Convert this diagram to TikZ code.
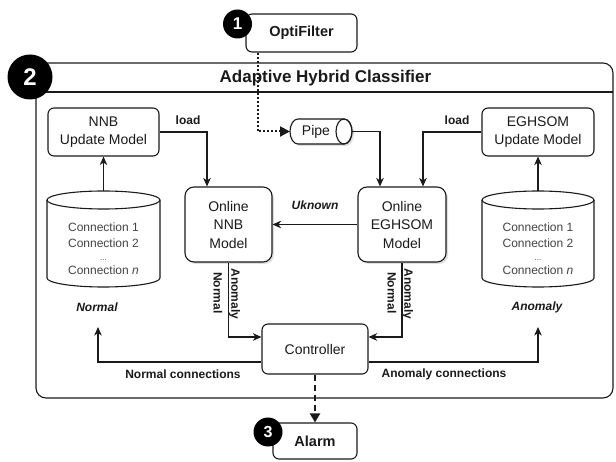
\documentclass[tikz,border=0pt]{standalone}
\usepackage{fontspec}
\setmainfont{Liberation Sans}
\usetikzlibrary{arrows.meta,shadows,calc}

\definecolor{ink}{HTML}{1A1A1A}
\definecolor{dbtext}{HTML}{444444}

\tikzset{
  box/.style={draw=ink, line width=1.1pt, fill=white, rounded corners=6pt,
    align=center, inner sep=0pt, text=ink, font=\fontsize{14}{18.5}\selectfont},
  modelbox/.style={box, rounded corners=9pt,
    drop shadow={opacity=0.25, shadow xshift=2pt, shadow yshift=-2pt}},
  boldbox/.style={box, font=\bfseries\fontsize{14.5}{18}\selectfont},
  flow/.style={draw=ink, line width=1.2pt, -{Stealth[length=8.5pt,width=7.5pt,inset=2.5pt]}},
  lbl/.style={font=\bfseries\fontsize{12}{14}\selectfont, text=ink, inner sep=1pt},
  lblit/.style={font=\bfseries\itshape\fontsize{12}{14}\selectfont, text=ink, inner sep=1pt},
  vlbl/.style={lbl, rotate=-90},
  dbtxt/.style={align=center, text=dbtext, font=\fontsize{12}{15.6}\selectfont},
  badge/.style={circle, fill=black, text=white, inner sep=0pt, font=\bfseries},
  dbbody/.style={draw=ink, line width=1.1pt, fill=white},
}

\begin{document}
\begin{tikzpicture}[x=1pt, y=-1pt]
\useasboundingbox (0,0) rectangle (616,462);

% outer classifier frame with its title band
\draw[draw=ink, line width=1.1pt, rounded corners=10pt] (36,63) rectangle (613,398);
\draw[draw=ink, line width=1.1pt] (36,92) -- (613,92);
\node[font=\bfseries\fontsize{17}{20}\selectfont, text=ink] (title) at (325.5,78) {Adaptive Hybrid Classifier};

% boxes
\node[boldbox, minimum width=111pt, minimum height=38pt] (opti) at (301.5,33) {OptiFilter};
\node[box, minimum width=111pt, minimum height=48pt] (nnbupd) at (103.5,132) {NNB\\Update Model};
\node[box, minimum width=112pt, minimum height=48pt] (eghupd) at (538,132) {EGHSOM\\Update Model};
\node[modelbox, minimum width=87pt, minimum height=75pt] (nnb) at (228.5,224.5) {Online\\NNB\\Model};
\node[modelbox, minimum width=88pt, minimum height=75pt] (egh) at (402,224.5) {Online\\EGHSOM\\Model};
\node[box, minimum width=106pt, minimum height=50pt] (ctrl) at (315,349) {Controller};
\node[boldbox, minimum width=84pt, minimum height=36pt] (alarm) at (315,441) {Alarm};

% pipe (horizontal cylinder)
\path[dbbody, drop shadow={opacity=0.25, shadow xshift=2pt, shadow yshift=-2pt}]
  (344,119) -- (298,119)
  .. controls (293.58,119) and (290,124.6) .. (290,131.5)
  .. controls (290,138.4) and (293.58,144) .. (298,144) -- (344,144)
  .. controls (348.42,144) and (352,138.4) .. (352,131.5)
  .. controls (352,124.6) and (348.42,119) .. (344,119) -- cycle;
\draw[draw=ink, line width=1.1pt] (344,131.5) ellipse (8 and 12.5);
\node[text=ink, font=\fontsize{14}{16}\selectfont] (pipe) at (316,131.5) {Pipe};
\coordinate (pipeL) at (290,131.5);
\coordinate (pipeR) at (352,131.5);

% connection stores (vertical cylinders)
\foreach \cx/\rx/\nm in {103.5/56.5/normdb, 538/56/anomdb}{
  \path[dbbody]
    (\cx-\rx,200) -- (\cx-\rx,278)
    .. controls (\cx-\rx,282.97) and (\cx-0.5523*\rx,287) .. (\cx,287)
    .. controls (\cx+0.5523*\rx,287) and (\cx+\rx,282.97) .. (\cx+\rx,278)
    -- (\cx+\rx,200);
  \draw[dbbody] (\cx,200) ellipse ({\rx} and 9);
  \coordinate (\nm Top) at (\cx,191);
  \node[dbtxt] (\nm txt) at (\cx,249) {Connection 1\\Connection 2\\[-3pt]{\fontsize{8}{9}\selectfont...}\\[-1pt]Connection \textit{n}};
}

% store labels
\node[lblit] (normlbl) at (97,307) {Normal};
\node[lblit] (anomlbl) at (537,307) {Anomaly};
\coordinate (normTip) at (98,327);
\coordinate (anomTip) at (538,327);

% connectors
\draw[flow] (normdbTop) -- (nnbupd.south);
\draw[flow] (anomdbTop) -- (eghupd.south);
\draw[flow] (nnbupd.east) -| ([xshift=-21.5pt]nnb.north);
\draw[flow] (eghupd.west) -| ([xshift=21pt]egh.north);
\draw[flow] (pipeR) -| ([xshift=-22pt]egh.north);
\draw[flow] (egh.west) -- (nnb.east);
\draw[flow] (nnb.south) |- ([yshift=12pt]ctrl.west);
\draw[flow] (egh.south) |- ([yshift=12pt]ctrl.east);
\draw[flow] ([yshift=-13pt]ctrl.west) -| (normTip);
\draw[flow] ([yshift=-13pt]ctrl.east) -| (anomTip);
\draw[draw=ink, line width=2pt, dash pattern=on 2pt off 2pt, -{Triangle[length=10pt,width=10pt]}]
  ([xshift=-43.5pt]opti.south) |- (pipeL);
\draw[draw=ink, line width=2pt, dash pattern=on 6pt off 4pt, -{Triangle[length=9pt,width=10pt]}]
  (ctrl.south) -- (alarm.north);

% connector labels
\node[lbl] (load1) at (188,120) {load};
\node[lbl] (load2) at (457,120) {load};
\node[lblit] (unk) at (315,205) {Uknown};
\node[vlbl] (nnbA) at (234.5,294) {Anomaly};
\node[vlbl] (nnbN) at (218,293) {Normal};
\node[vlbl] (eghA) at (407.5,294) {Anomaly};
\node[vlbl] (eghN) at (392,293) {Normal};
\node[lbl] (normconn) at (183,374) {Normal connections};
\node[lbl] (anomconn) at (444,374) {Anomaly connections};

% numbered badges
\node[badge, minimum size=29pt, font=\bfseries\fontsize{17}{18}\selectfont] (b1) at (237.5,24) {1};
\node[badge, minimum size=45pt, font=\bfseries\fontsize{24}{26}\selectfont] (b2) at (30,77) {2};
\node[badge, minimum size=29pt, font=\bfseries\fontsize{16}{18}\selectfont] (b3) at (268,432) {3};
\end{tikzpicture}
\end{document}
